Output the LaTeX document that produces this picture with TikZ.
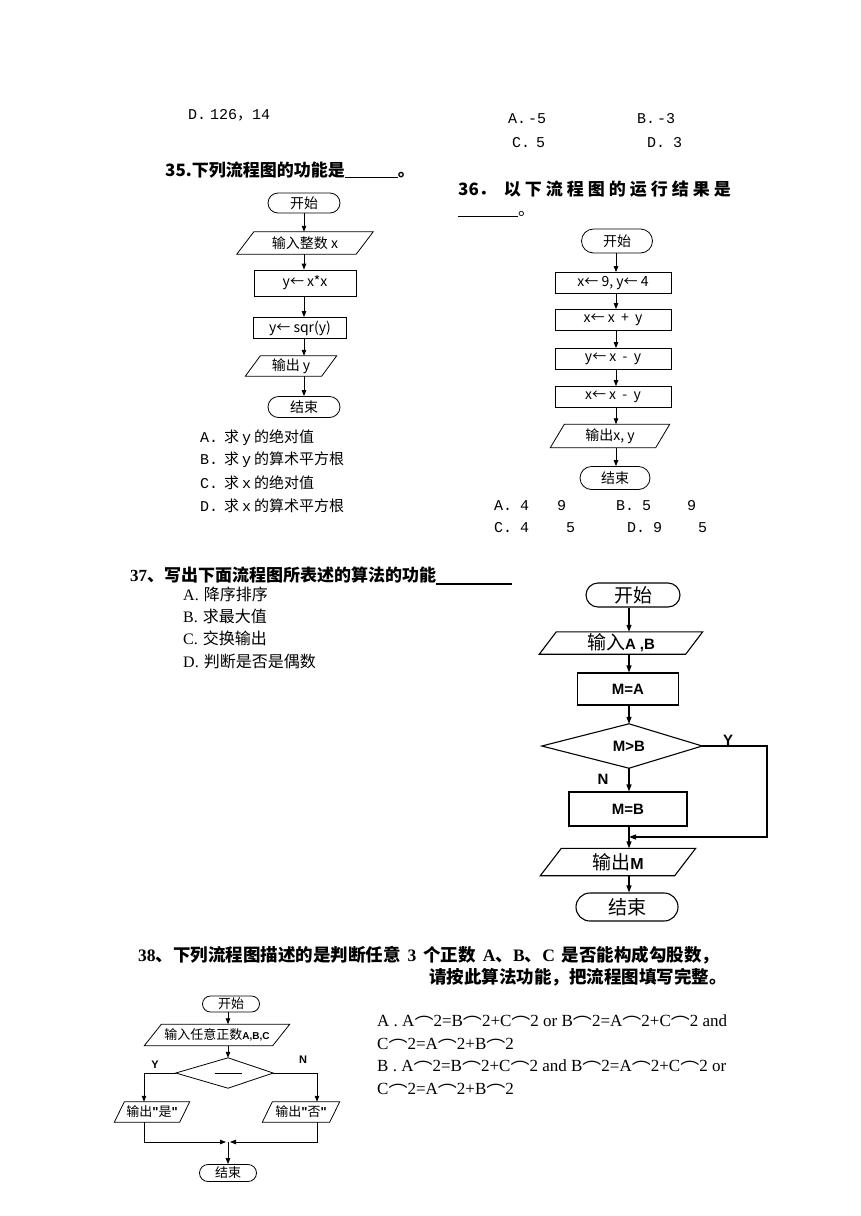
\documentclass[tikz,border=0pt]{standalone}
\usepackage{fontspec}
\setmainfont{Liberation Serif}
\newfontfamily\cjk{Noto Sans CJK SC}
\newfontfamily\mono{Liberation Mono}
\newfontfamily\arial{Liberation Sans}
\usetikzlibrary{arrows.meta,shapes.misc}
\newcommand\setfs[1]{\fontsize{#1}{#1}\selectfont}
\newcommand\paragram[3]{\draw[#1] ([xshift=#3]#2.north west) -- (#2.north east) -- ([xshift=-#3]#2.south east) -- (#2.south west) -- cycle;}
\newcommand\arcsym{\raisebox{-4pt}{\scalebox{1.12}[1]{\cjk ⌒}}}
\begin{document}
\begin{tikzpicture}[x=1pt,y=-1pt,
  ln/.style={line width=0.8pt},
  lnb/.style={line width=1.1pt},
  arr/.style={ln,-{Triangle[length=6pt,width=4.5pt]}},
  arrb/.style={lnb,-{Triangle[length=7pt,width=5pt]}},
  term/.style 2 args={draw,rounded rectangle,minimum width=#1,minimum height=#2,inner sep=0pt},
  proc/.style 2 args={draw,rectangle,minimum width=#1,minimum height=#2,inner sep=0pt},
  box/.style 2 args={rectangle,minimum width=#1,minimum height=#2,inner sep=0pt},
  txt/.style={anchor=west,inner sep=0pt},
  fA/.style={font=\cjk\setfs{14}},
  fB/.style={font=\cjk\setfs{19}},
  fC/.style={font=\cjk\setfs{13}},
]
\useasboundingbox (0,0) rectangle (860,1216);
\fill[white] (0,0) rectangle (860,1216);

% ---------- top answer lines ----------
\node[txt] (q34d) at (188,115) {\mono\setfs{15}D.\hspace{4pt}126{\cjk ，}14};
\node[txt] (q35a) at (508,119) {\mono\setfs{15}A.\hspace{2pt}-5};
\node[txt] (q35b) at (637,119) {\mono\setfs{15}B.\hspace{2pt}-3};
\node[txt] (q35c) at (512,143) {\mono\setfs{15}C.\hspace{6pt}5};
\node[txt] (q35d) at (647,143) {\mono\setfs{15}D.\hspace{8pt}3};

% ---------- 35 ----------
\node[txt] (h35) at (165,170) {\cjk\bfseries\setfs{17}35.下列流程图的功能是\underline{\hspace{53pt}}。};
\coordinate (c35) at (304,0);
\node[term={72}{20},ln,fA] (s35) at (304,203) {开始};
\node[box={136}{22},fA] (i35) at (305,243) {输入整数 x};
\paragram{ln}{i35}{17}
\node[proc={102}{26},ln,fA] (p35a) at (305,283) {y← x*x};
\node[proc={93}{21},ln,fA] (p35b) at (300,328) {y← sqr(y)};
\node[box={91}{20},fA] (o35) at (291,366) {输出 y};
\paragram{ln}{o35}{15}
\node[term={72}{21},ln,fA] (e35) at (304,407) {结束};
\draw[arr] (s35.south -| c35) -- (i35.north -| c35);
\draw[arr] (i35.south -| c35) -- (p35a.north -| c35);
\draw[arr] (p35a.south -| c35) -- (p35b.north -| c35);
\draw[arr] (p35b.south -| c35) -- (o35.north -| c35);
\draw[arr] (o35.south -| c35) -- (e35.north -| c35);

\node[txt] (a35) at (200,438) {\setfs{15}{\mono A.}\hspace{6pt}{\cjk 求}\hspace{3pt}{\mono y}\hspace{3pt}{\cjk 的绝对值}};
\node[txt] (b35) at (200,460) {\setfs{15}{\mono B.}\hspace{6pt}{\cjk 求}\hspace{3pt}{\mono y}\hspace{3pt}{\cjk 的算术平方根}};
\node[txt] (cc35) at (200,483) {\setfs{15}{\mono C.}\hspace{6pt}{\cjk 求}\hspace{3pt}{\mono x}\hspace{3pt}{\cjk 的绝对值}};
\node[txt] (d35) at (200,506) {\setfs{15}{\mono D.}\hspace{6pt}{\cjk 求}\hspace{3pt}{\mono x}\hspace{3pt}{\cjk 的算术平方根}};

% ---------- 36 ----------
\node[txt] (h36) at (458,189) {\cjk\bfseries\setfs{17}36．\hspace{8pt}\makebox[227pt][s]{以\hfill 下\hfill 流\hfill 程\hfill 图\hfill 的\hfill 运\hfill 行\hfill 结\hfill 果\hfill 是}};
\node[txt] (h36b) at (458,214) {\cjk\setfs{17}\underline{\hspace{60pt}}。};
\coordinate (c36) at (616,0);
\node[term={71}{24},ln,fA] (s36) at (617,241) {开始};
\node[proc={116}{21},ln,fA] (r1) at (613,283) {x← 9, y← 4};
\node[proc={116}{21},ln,fA] (r2) at (613,320) {x← x \ + \ y};
\node[proc={116}{21},ln,fA] (r3) at (613,359) {y← x \ - \ y};
\node[proc={116}{21},ln,fA] (r4) at (613,397) {x← x \ - \ y};
\node[box={119}{23},fA] (o36) at (610,436) {输出x, y};
\paragram{ln}{o36}{14}
\node[term={70}{23},ln,fA] (e36) at (615,478) {结束};
\draw[arr] (s36.south -| c36) -- (r1.north -| c36);
\draw[arr] (r1.south -| c36) -- (r2.north -| c36);
\draw[arr] (r2.south -| c36) -- (r3.north -| c36);
\draw[arr] (r3.south -| c36) -- (r4.north -| c36);
\draw[arr] (r4.south -| c36) -- (o36.north -| c36);
\draw[arr] (o36.south -| c36) -- (e36.north -| c36);

\node[txt] (a36) at (494,506) {\mono\setfs{15}A.\hspace{8pt}4\hspace{28pt}9};
\node[txt] (b36) at (616,506) {\mono\setfs{15}B.\hspace{8pt}5\hspace{36pt}9};
\node[txt] (cc36) at (494,528) {\mono\setfs{15}C.\hspace{8pt}4\hspace{37pt}5};
\node[txt] (d36) at (627,528) {\mono\setfs{15}D.\hspace{8pt}9\hspace{36pt}5};

% ---------- 37 ----------
\node[txt] (h37) at (130,576) {\setfs{17}\bfseries 37{\cjk 、写出下面流程图所表述的算法的功能}\rule[-3pt]{76pt}{1.6pt}};
\node[txt] (a37) at (183,594) {\setfs{16}A.\hspace{5pt}{\cjk 降序排序}};
\node[txt] (b37) at (183,616) {\setfs{16}B.\hspace{5pt}{\cjk 求最大值}};
\node[txt] (cc37) at (183,638) {\setfs{16}C.\hspace{5pt}{\cjk 交换输出}};
\node[txt] (d37t) at (183,661) {\setfs{16}D.\hspace{5pt}{\cjk 判断是否是偶数}};

\coordinate (c37) at (629,0);
\node[term={94}{24},lnb,fB] (s37) at (633,595) {开始};
\node[box={163}{22},fB] (i37) at (621,643) {输入{\arial\bfseries\setfs{15}A ,B}};
\paragram{lnb}{i37}{17}
\node[proc={101}{32},lnb,font=\arial\bfseries\setfs{15}] (m37a) at (628,689) {M=A};
\node[box={146}{44},font=\arial\bfseries\setfs{15}] (d37) at (629,746) {M>B};
\draw[lnb] (d37.north) -- (d37.east) -- (d37.south) -- ([xshift=-14]d37.west) -- cycle;
\node[proc={118}{34},lnb,font=\arial\bfseries\setfs{15}] (m37b) at (628,809) {M=B};
\node[box={155}{27},fB] (o37) at (618,862) {输出{\arial\bfseries\setfs{16}M}};
\paragram{lnb}{o37}{21}
\node[term={102}{28},lnb,fB] (e37) at (627,907) {结束};
\node[font=\arial\bfseries\setfs{15}] (y37) at (728,740) {Y};
\node[font=\arial\bfseries\setfs{15}] (n37) at (603,779) {N};
\coordinate (yr37) at (767,746);
\coordinate (yb37) at (767,837);
\coordinate (mg37) at (629,837);
\draw[arrb] (s37.south -| c37) -- (i37.north -| c37);
\draw[arrb] (i37.south -| c37) -- (m37a.north -| c37);
\draw[arrb] (m37a.south -| c37) -- (d37.north -| c37);
\draw[arrb] (d37.south -| c37) -- (m37b.north -| c37);
\draw[arrb] (m37b.south -| c37) -- (o37.north -| c37);
\draw[arrb] (d37.east) -- (yr37) -- (yb37) -- (mg37);
\draw[arrb] (o37.south -| c37) -- (e37.north -| c37);

% ---------- 38 ----------
\node[txt] (h38) at (138,955) {\setfs{17.5}\bfseries 38{\cjk 、下列流程图描述的是判断任意}\hspace{7pt}3\hspace{7pt}{\cjk 个正数}\hspace{7pt}A{\cjk 、}B{\cjk 、}C\hspace{7pt}{\cjk 是否能构成勾股数，}};
\node[anchor=east,inner sep=0pt] (h38b) at (727,977) {\cjk\bfseries\setfs{17.5}请按此算法功能，把流程图填写完整。};

\node[txt] (oa38) at (377,1023) {\setfs{17}A . A\arcsym 2=B\arcsym 2+C\arcsym 2 or B\arcsym 2=A\arcsym 2+C\arcsym 2 and};
\node[txt] (oa38b) at (377,1046) {\setfs{17}C\arcsym 2=A\arcsym 2+B\arcsym 2};
\node[txt] (ob38) at (377,1068) {\setfs{17}B . A\arcsym 2=B\arcsym 2+C\arcsym 2 and B\arcsym 2=A\arcsym 2+C\arcsym 2 or};
\node[txt] (ob38b) at (377,1091) {\setfs{17}C\arcsym 2=A\arcsym 2+B\arcsym 2};

\coordinate (c38) at (228,0);
\node[term={57}{16},ln,fC] (s38) at (231,1004) {开始};
\node[box={145}{21},fC] (i38) at (217,1035) {输入任意正数{\arial\bfseries\setfs{10}A,B,C}};
\paragram{ln}{i38}{17}
\node[box={90}{30}] (d38) at (228,1073) {\rule[-2pt]{27pt}{0.6pt}};
\draw[ln] (d38.north) -- (d38.east) -- (d38.south) -- ([xshift=-7]d38.west) -- cycle;
\node[box={75}{20},fC] (oy38) at (152,1112) {输出{\arial\bfseries "}是{\arial\bfseries "}};
\paragram{ln}{oy38}{10}
\node[box={77}{20},fC] (on38) at (301,1112) {输出{\arial\bfseries "}否{\arial\bfseries "}};
\paragram{ln}{on38}{10}
\node[term={57}{17},ln,fC] (e38) at (228,1173) {结束};
\node[font=\arial\bfseries\setfs{11}] (y38) at (155,1065) {Y};
\node[font=\arial\bfseries\setfs{11}] (n38) at (303,1060) {N};
\coordinate (yl38) at (144,1073);
\coordinate (nr38) at (317,1073);
\coordinate (bl38) at (144,1142);
\coordinate (br38) at (317,1142);
\coordinate (mg38) at (228,1142);
\draw[arr] (s38.south -| c38) -- (i38.north -| c38);
\draw[arr] (i38.south -| c38) -- (d38.north -| c38);
\draw[ln] ([xshift=-7]d38.west) -- (yl38);
\draw[arr] (yl38) -- (oy38.north -| yl38);
\draw[ln] (d38.east) -- (nr38);
\draw[arr] (nr38) -- (on38.north -| nr38);
\draw[arr] (oy38.south -| yl38) -- (bl38) -- ([xshift=-2]mg38);
\draw[arr] (on38.south -| nr38) -- (br38) -- ([xshift=2]mg38);
\draw[arr] (mg38) -- (e38.north -| mg38);
\end{tikzpicture}
\end{document}
